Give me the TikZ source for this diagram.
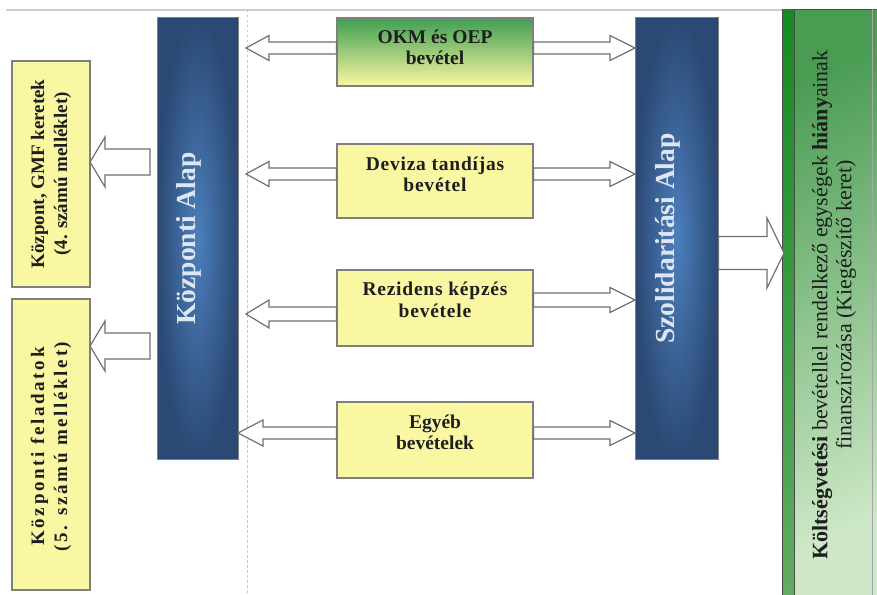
\documentclass[tikz,border=0pt]{standalone}
\usepackage{fontspec}
\setmainfont{Liberation Serif}
\usetikzlibrary{calc}
\definecolor{bgray}{HTML}{7F7F7F}
\definecolor{ylw}{HTML}{FAF7A2}
\definecolor{okmTop}{HTML}{3F9E52}
\definecolor{okmMid}{HTML}{B8D67E}
\definecolor{blueIn}{HTML}{4C7FBC}
\definecolor{blueOut}{HTML}{2B4974}
\definecolor{blueTxt}{HTML}{DDE6F1}
\definecolor{txtdark}{HTML}{1E1E1E}
\definecolor{agray}{HTML}{707070}
\definecolor{gTop}{HTML}{4A9C53}
\definecolor{gBot}{HTML}{CFE9C8}
\definecolor{sTop}{HTML}{168A22}
\definecolor{sBot}{HTML}{62AC63}
\definecolor{gLine}{HTML}{4A4A4A}
\newcommand{\blockarrow}[5]{%
  \draw[blockarr] let \p1=(#1), \p2=(#2) in
    (\x1,{\y2+#3pt}) -- ({\x2-(#5pt)},{\y2+#3pt}) -- ({\x2-(#5pt)},{\y2+#4pt})
    -- (\x2,\y2) -- ({\x2-(#5pt)},{\y2-#4pt}) -- ({\x2-(#5pt)},{\y2-#3pt})
    -- (\x1,{\y2-#3pt}) -- cycle;}
\begin{document}
\begin{tikzpicture}[x=1pt,y=-1pt,
  ybox/.style={draw=bgray, line width=1.1pt, fill=ylw, inner sep=0pt},
  bluebox/.style={draw=bgray, line width=1pt, inner color=blueIn, outer color=blueOut, inner sep=0pt},
  ytext/.style={text=txtdark, font=\fontsize{19.5}{21.5}\selectfont\bfseries, align=center, inner sep=0pt},
  sidetext/.style={rotate=90, text=txtdark, font=\fontsize{19}{23}\selectfont\bfseries, align=center, inner sep=0pt},
  bluetext/.style={rotate=90, text=blueTxt, font=\fontsize{27.5}{30}\selectfont\bfseries, inner sep=0pt},
  greentext/.style={rotate=90, text=txtdark, font=\fontsize{22}{24}\selectfont, align=center, inner sep=0pt},
  blockarr/.style={draw=agray, line width=1.2pt, fill=white, line join=miter},
  guide/.style={draw=gray!45, line width=0.8pt, dash pattern=on 2.5pt off 2.5pt},
  topline/.style={draw=gray!40, line width=1.6pt}
]
\useasboundingbox (0,0) rectangle (877,594);

% top rule and dotted guide
\coordinate (tl) at (6,10);
\coordinate (tr) at (783,10);
\draw[topline] (tl) -- (tr);
\coordinate (gtop) at (247,10);
\coordinate (gbot) at (247,594);
\draw[guide] (gtop) -- (gbot);

% left boxes
\node[ybox, minimum width=78pt, minimum height=226pt] (lb1) at (51,174) {};
\node[sidetext] (lt1) at (lb1.center) {Központ, GMF keretek\\(4. számú melléklet)};
\node[ybox, minimum width=78pt, minimum height=291pt] (lb2) at (51,444.5) {};
\node[sidetext, font=\fontsize{19}{23}\selectfont\bfseries\addfontfeature{LetterSpace=14}] (lt2) at ($(lb2.center)+(0,2)$) {Központi feladatok\\(5. számú melléklet)};

% blue columns
\node[bluebox, minimum width=81pt, minimum height=441pt] (ka) at (197.5,238.5) {};
\node[bluetext] (kat) at ($(ka.center)+(-9,0)$) {Központi Alap};
\node[bluebox, minimum width=83pt, minimum height=441pt] (sa) at (676.5,238.5) {};
\node[bluetext] (sat) at ($(sa.center)+(-9,0)$) {Szolidaritási Alap};

% middle boxes
\node[ybox, top color=okmTop, middle color=okmMid, bottom color=ylw, minimum width=196pt, minimum height=68pt] (okm) at (435,52) {};
\node[ytext] (okmt) at ($(okm.center)+(0,-4.5)$) {OKM és OEP\\bevétel};
\node[ybox, minimum width=196pt, minimum height=74pt] (dev) at (435,181) {};
\node[ytext, font=\fontsize{19.5}{21.5}\selectfont\bfseries\addfontfeature{LetterSpace=4}] (devt) at ($(dev.center)+(0,-6.5)$) {Deviza tandíjas\\bevétel};
\node[ybox, minimum width=196pt, minimum height=76pt] (rez) at (435,308) {};
\node[ytext, font=\fontsize{19.5}{21.5}\selectfont\bfseries\addfontfeature{LetterSpace=4}] (rezt) at ($(rez.center)+(0,-8)$) {Rezidens képzés\\bevétele};
\node[ybox, minimum width=196pt, minimum height=76pt] (egy) at (435,440) {};
\node[ytext] (egyt) at ($(egy.center)+(0,-7.5)$) {Egyéb\\bevételek};

% green box
\node[draw=gLine, line width=1pt, top color=gTop, bottom color=gBot, shading angle=25, minimum width=97pt, minimum height=590pt, inner sep=0pt] (gb) at (831.5,305) {};
\coordinate (s1) at ($(gb.north west)+(12,0)$);
\coordinate (s2) at ($(gb.south west)+(12,0)$);
\fill[top color=sTop, bottom color=sBot] (gb.north west) rectangle (s2);
\draw[gLine, line width=1pt] (gb.north west) -- (gb.south west);
\draw[gLine, line width=1pt] (s1) -- (s2);
\coordinate (s3) at ($(gb.north west)+(90,0)$);
\coordinate (s4) at ($(gb.south west)+(90,0)$);
\draw[gray!70, line width=0.8pt] (s3) -- (s4);
\node[greentext] (gt) at (834,305) {\textbf{Költségvetési} bevétellel rendelkező egységek \textbf{hiány}ainak\\finanszírozása (Kiegészítő keret)};

% arrows from middle boxes
\coordinate (okmL) at (246,48);  \blockarrow{okm.west}{okmL}{6}{12.5}{-23}
\coordinate (okmR) at (635,48);  \blockarrow{okm.east}{okmR}{6}{12.5}{25}
\coordinate (devL) at (246,174); \blockarrow{dev.west}{devL}{6}{12.5}{-23}
\coordinate (devR) at (635,174); \blockarrow{dev.east}{devR}{6}{12.5}{25}
\coordinate (rezL) at (246,314); \blockarrow{rez.west}{rezL}{7}{14}{-23}
\coordinate (rezR) at (635,300); \blockarrow{rez.east}{rezR}{7}{12.5}{25}
\coordinate (egyL) at (238,433); \blockarrow{egy.west}{egyL}{6}{13}{-25}
\coordinate (egyR) at (635,433); \blockarrow{egy.east}{egyR}{6}{12.5}{25}

% arrows to left boxes
\coordinate (k1) at (150,162); \coordinate (lb1t) at (90,162);
\blockarrow{k1}{lb1t}{13}{25}{-15}
\coordinate (k2) at (150,346); \coordinate (lb2t) at (90,346);
\blockarrow{k2}{lb2t}{13}{25}{-15}

% big arrow to green box
\coordinate (gbt) at (784,253);
\blockarrow{sa.east}{gbt}{16.5}{35}{17}
\end{tikzpicture}
\end{document}
